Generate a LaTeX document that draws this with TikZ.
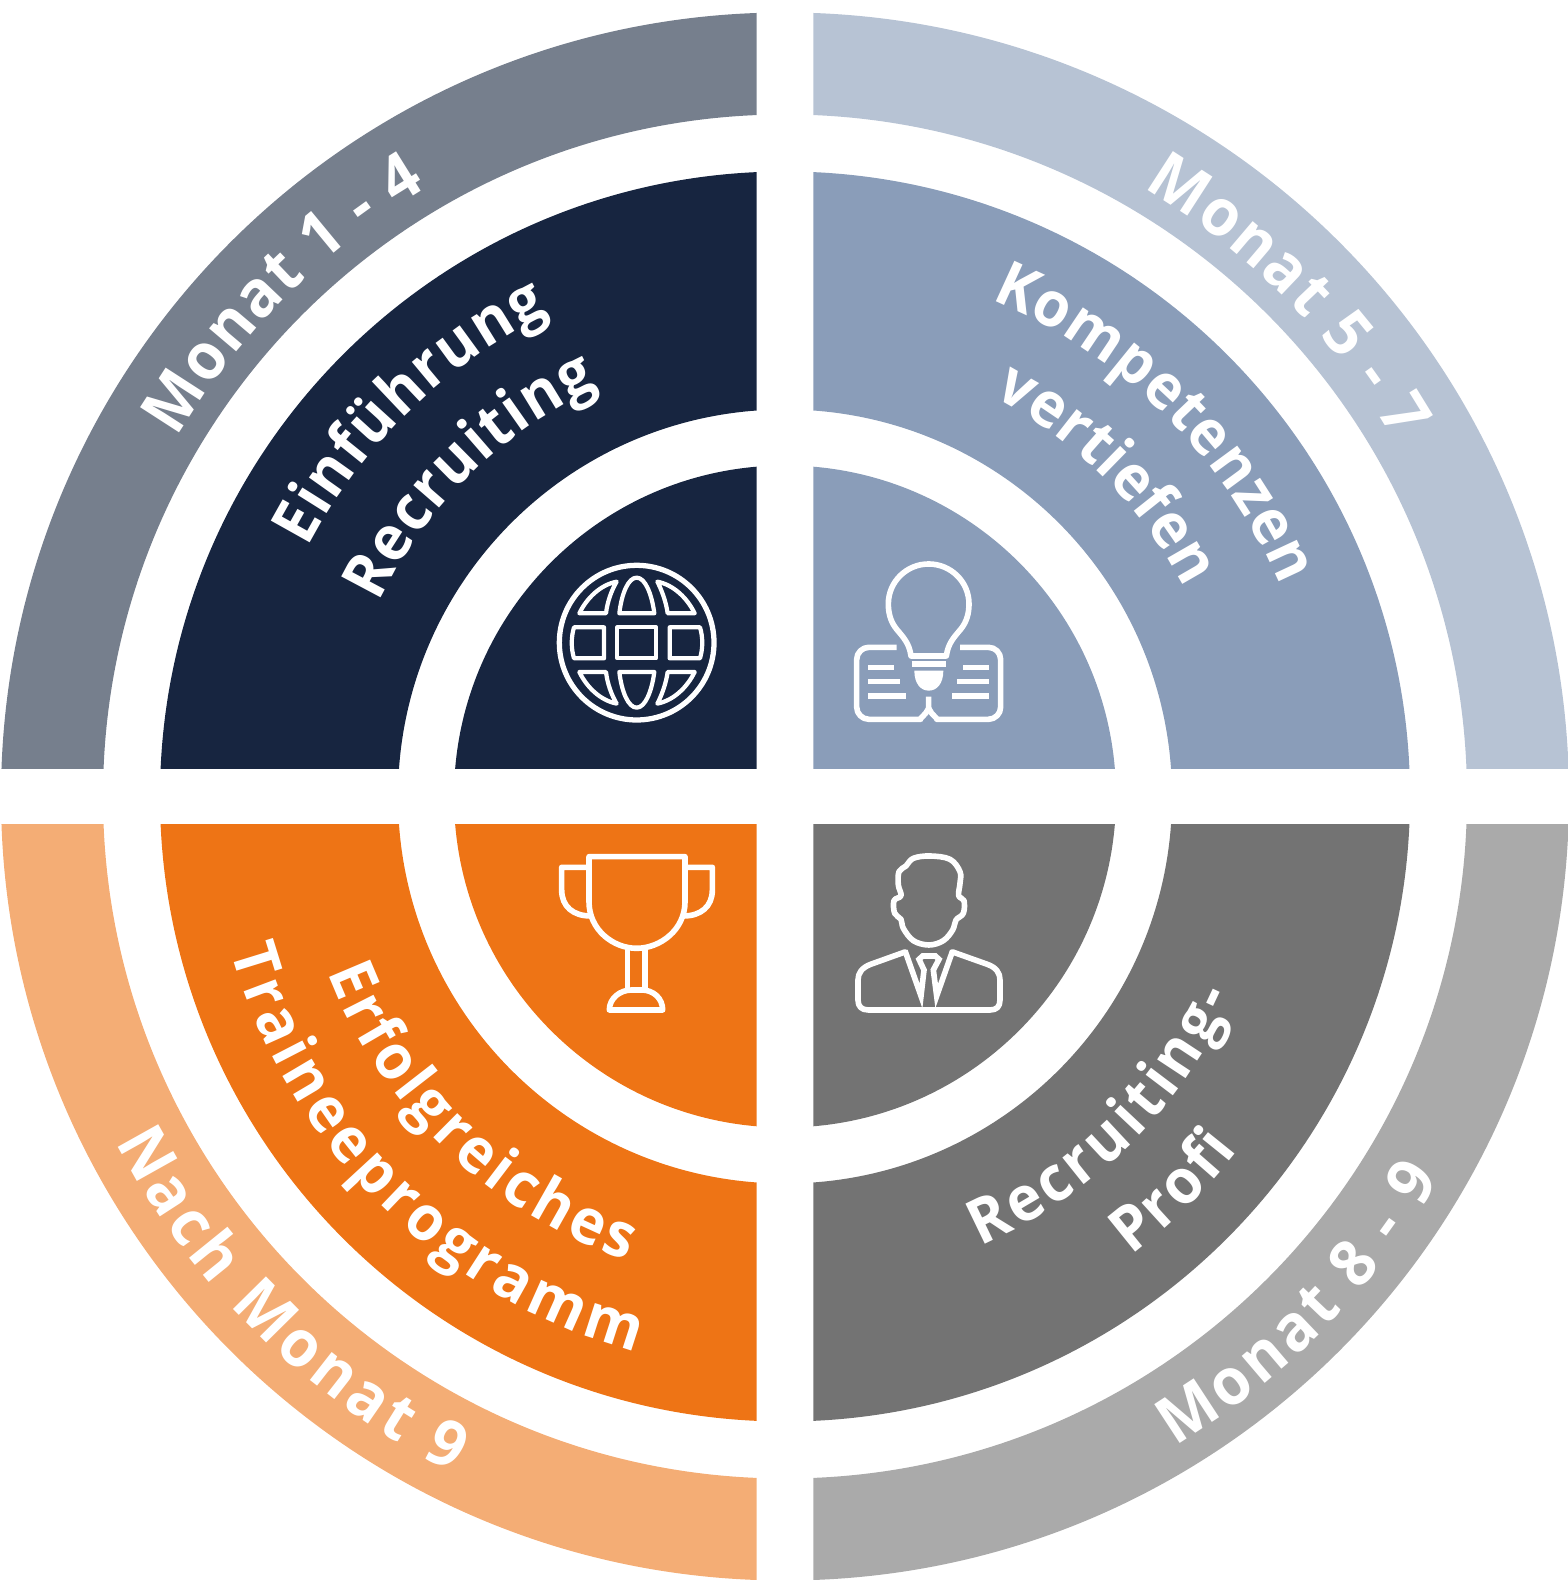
\documentclass[tikz,border=0pt]{standalone}
\usepackage{fontspec}
\setmainfont{Open Sans}[FakeStretch=0.95]
\usetikzlibrary{decorations.text}

\definecolor{slate}{HTML}{767F8D}
\definecolor{navy}{HTML}{172540}
\definecolor{mist}{HTML}{B7C3D4}
\definecolor{steel}{HTML}{8A9DB9}
\definecolor{peach}{HTML}{F4AD75}
\definecolor{pumpkin}{HTML}{EE7415}
\definecolor{silver}{HTML}{AAAAAA}
\definecolor{graphite}{HTML}{737373}

\newcommand{\bandfont}{\fontsize{37pt}{37pt}\selectfont\bfseries\color{white}}
\newcommand{\mainfont}{\fontsize{35.5pt}{35.5pt}\selectfont\bfseries\color{white}}
% font, start angle, radius, end angle, text
\newcommand{\arclabel}[5]{\path[decorate, decoration={text along path, text align=fit to path, text={|#1|#5}}]
  (hub) ++(#2:#3) arc[start angle=#2, end angle=#4, radius=#3];}

\tikzset{
  icon/.style={white, line width=3.2pt, line join=round, line cap=round},
  globecell/.style={white, line width=2.4pt, line join=round},
  iconbar/.style={white, line width=3pt},
}

\begin{document}
\begin{tikzpicture}[x=0.02cm, y=0.02cm]
  \useasboundingbox (0,0) rectangle (1567,1594);
  \coordinate (hub) at (785,797.5);

  \foreach \sx/\sy/\outer/\inner in {-1/1/slate/navy, 1/1/mist/steel, -1/-1/peach/pumpkin, 1/-1/silver/graphite} {
    \begin{scope}
      \clip (785+\sx*28.4, 797.5+\sy*28.4) rectangle (785+\sx*810, 797.5+\sy*810);
      \fill[\outer, even odd rule] (hub) circle (784) circle (682);
      \fill[\inner, even odd rule] (hub) circle (625) circle (387);
      \fill[\inner] (hub) circle (331);
    \end{scope}
  }

  \arclabel{\bandfont}{149.5}{706}{120.5}{Monat 1 - 4}
  \arclabel{\bandfont}{59.5}{706}{30.2}{Monat 5 - 7}
  \arclabel{\bandfont}{207.3}{753}{243.8}{Nach Monat 9}
  \arclabel{\bandfont}{301}{758}{329.7}{Monat 8 - 9}

  \arclabel{\mainfont}{152.5}{538}{116}{Einführung}
  \arclabel{\mainfont}{154.5}{450}{114.5}{Recruiting}
  \arclabel{\mainfont}{67.5}{538}{23}{Kompetenzen}
  \arclabel{\mainfont}{62.5}{451}{27.5}{vertiefen}
  \arclabel{\mainfont}{201}{490}{251.2}{Erfolgreiches}
  \arclabel{\mainfont}{195.5}{575}{255}{Traineeprogramm}
  \arclabel{\mainfont}{293.5}{490}{336}{Recruiting-}
  \arclabel{\mainfont}{307}{575}{322}{Profi}

  % globe
  \begin{scope}[shift={(520,1064)}, xscale=1/3, yscale=-1/3]
    \draw[icon, line width=3pt] (350,338) circle (232);
    \draw[globecell] (292,292) rectangle (408,385);
    \draw[globecell] (252,292) -- (252,385) -- (162,385) .. controls (153,355) and (153,322) .. (162,292) -- cycle;
    \draw[globecell] (449,292) -- (449,385) -- (540,385) .. controls (549,355) and (549,322) .. (540,292) -- cycle;
    \draw[globecell] (298,250) -- (403,250) .. controls (395,190) and (375,143) .. (350,143) .. controls (325,143) and (305,190) .. (298,250) -- cycle;
    \draw[globecell] (178,250) -- (258,250) .. controls (262,215) and (275,180) .. (290,155) .. controls (240,165) and (200,205) .. (178,250) -- cycle;
    \draw[globecell] (524,250) -- (443,250) .. controls (438,215) and (425,180) .. (412,155) .. controls (462,165) and (502,205) .. (524,250) -- cycle;
    \draw[globecell] (298,426) -- (403,426) .. controls (395,486) and (375,533) .. (350,533) .. controls (325,533) and (305,486) .. (298,426) -- cycle;
    \draw[globecell] (178,426) -- (258,426) .. controls (262,461) and (275,496) .. (290,521) .. controls (240,511) and (200,471) .. (178,426) -- cycle;
    \draw[globecell] (524,426) -- (443,426) .. controls (438,461) and (425,496) .. (412,521) .. controls (462,511) and (502,471) .. (524,426) -- cycle;
  \end{scope}

  % bulb and book
  \begin{scope}[shift={(520,1064)}, xscale=1/3, yscale=-1/3]
    \draw[icon] (1173,378) .. controls (1168,340) and (1150,322) .. (1130,298) .. controls (1112,276) and (1105,250) .. (1105,222) .. controls (1105,155) and (1160,102) .. (1226,102) .. controls (1292,102) and (1347,155) .. (1347,222) .. controls (1347,250) and (1340,276) .. (1322,298) .. controls (1302,322) and (1284,340) .. (1279,378) -- cycle;
    \draw[iconbar] (1175,402) -- (1278,402);
    \fill[white] (1183,422) -- (1270,422) .. controls (1270,462) and (1250,482) .. (1226,482) .. controls (1203,482) and (1183,462) .. (1183,422) -- cycle;
    \draw[icon, line cap=butt] (1130,352) [rounded corners=7pt] -- (1010,352) -- (1010,568) -- (1165,568) [sharp corners] .. controls (1195,568) and (1218,555) .. (1226,535) -- (1226,500);
    \draw[icon, line cap=butt] (1320,352) [rounded corners=7pt] -- (1442,352) -- (1442,568) -- (1287,568) [sharp corners] .. controls (1257,568) and (1234,555) .. (1226,535);
    \draw[iconbar] (1045,412) -- (1122,412);
    \draw[iconbar] (1045,455) -- (1140,455);
    \draw[iconbar] (1045,498) -- (1157,498);
    \draw[iconbar] (1330,412) -- (1407,412);
    \draw[iconbar] (1312,455) -- (1407,455);
    \draw[iconbar] (1296,498) -- (1407,498);
  \end{scope}

  % trophy
  \begin{scope}[shift={(520,764)}, xscale=1/3, yscale=-1/3]
    \draw[icon] (207,80) -- (207,215) .. controls (207,300) and (280,355) .. (350,355) .. controls (420,355) and (495,300) .. (495,215) -- (495,80) -- cycle;
    \draw[icon] (207,112) -- (125,112) -- (125,180) .. controls (125,230) and (160,258) .. (212,258);
    \draw[icon] (495,112) -- (577,112) -- (577,180) .. controls (577,230) and (542,258) .. (490,258);
    \draw[icon] (323,360) -- (323,475);
    \draw[icon] (375,360) -- (375,475);
    \draw[icon] (268,540) .. controls (268,505) and (300,480) .. (335,480) -- (365,480) .. controls (400,480) and (428,505) .. (428,540) -- cycle;
  \end{scope}

  % person
  \begin{scope}[shift={(520,764)}, xscale=1/3, yscale=-1/3]
    \draw[icon] plot[smooth cycle, tension=0.6] coordinates {(1227,345) (1180,332) (1150,295) (1143,268) (1124,250) (1122,212) (1143,197) (1135,165) (1137,125) (1158,108) (1180,85) (1230,78) (1290,88) (1320,125) (1320,160) (1316,197) (1332,212) (1330,250) (1308,270) (1298,300) (1270,332)};
    \draw[icon] (1155,366) -- (1052,403) .. controls (1025,413) and (1014,430) .. (1014,450) -- (1014,510) .. controls (1014,530) and (1025,540) .. (1045,540) -- (1410,540) .. controls (1430,540) and (1440,530) .. (1440,510) -- (1440,450) .. controls (1440,430) and (1430,413) .. (1402,403) -- (1298,366);
    \draw[icon, line join=miter, miter limit=6, line cap=butt] (1155,362) -- (1203,498) -- (1212,420) -- (1197,388) -- (1208,378) -- (1246,378) -- (1257,388) -- (1240,420) -- (1250,498) -- (1298,362);
  \end{scope}
\end{tikzpicture}
\end{document}
